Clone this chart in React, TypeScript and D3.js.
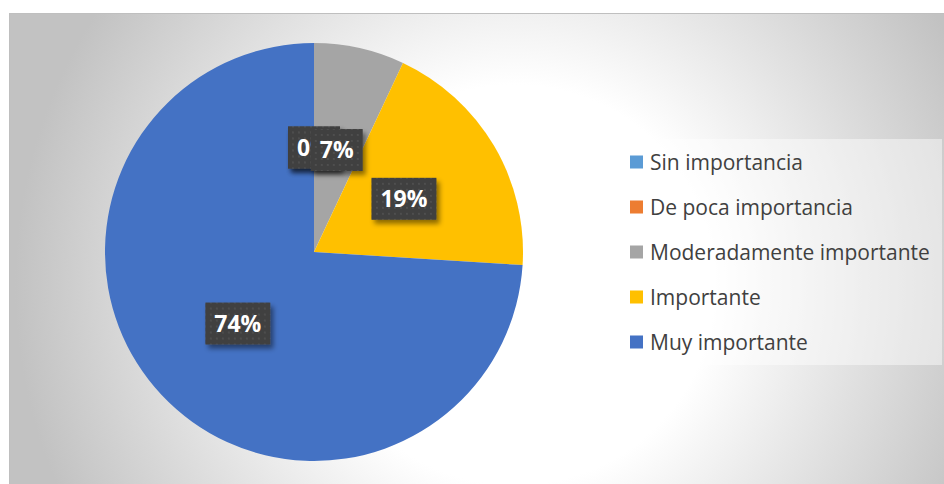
import { useEffect, useRef } from 'react'
import * as d3 from 'd3'

const categories = [
  'Sin importancia',
  'De poca importancia',
  'Moderadamente importante',
  'Importante',
  'Muy importante',
]
const values = [0, 0, 7, 19, 74]
const colors = ['#5B9BD5', '#ED7D31', '#A5A5A5', '#FFC000', '#4472C4']

interface Slice {
  name: string
  value: number
  color: string
}

export default function App() {
  const svgRef = useRef<SVGSVGElement>(null)

  useEffect(() => {
    document.body.style.margin = '0'
    if (!svgRef.current) return
    const W = 944
    const H = 484
    const svg = d3.select(svgRef.current)
    svg.selectAll('*').remove()
    svg.attr('width', W).attr('height', H)

    const data: Slice[] = categories.map((name, i) => ({ name, value: values[i], color: colors[i] }))

    const defs = svg.append('defs')
    const grad = defs.append('radialGradient')
      .attr('id', 'bg')
      .attr('gradientUnits', 'userSpaceOnUse')
      .attr('cx', 515).attr('cy', 285).attr('r', 500)
    grad.append('stop').attr('offset', 0).attr('stop-color', '#ffffff')
    grad.append('stop').attr('offset', 0.4).attr('stop-color', '#ffffff')
    grad.append('stop').attr('offset', 1).attr('stop-color', '#c2c2c2')

    const pat = defs.append('pattern')
      .attr('id', 'dots')
      .attr('patternUnits', 'userSpaceOnUse')
      .attr('width', 6).attr('height', 6)
    pat.append('rect').attr('width', 6).attr('height', 6).attr('fill', '#404040')
    pat.append('circle').attr('cx', 3).attr('cy', 3).attr('r', 0.9).attr('fill', '#555555')

    const shadow = defs.append('filter').attr('id', 'shadow')
      .attr('x', '-30%').attr('y', '-30%').attr('width', '160%').attr('height', '160%')
    shadow.append('feDropShadow')
      .attr('dx', 3).attr('dy', 4).attr('stdDeviation', 2.5)
      .attr('flood-color', '#000').attr('flood-opacity', 0.45)

    // chart area
    svg.append('rect')
      .attr('x', 9.5).attr('y', 13.5)
      .attr('width', W).attr('height', H)
      .attr('fill', 'url(#bg)')
      .attr('stroke', '#bfbfbf')

    // pie
    const cx = 314
    const cy = 252
    const r = 209
    const pie = d3.pie<Slice>().sort(null).value(d => d.value)
    const arcs = pie(data)
    const arc = d3.arc<d3.PieArcDatum<Slice>>().innerRadius(0).outerRadius(r)

    const g = svg.append('g').attr('transform', `translate(${cx},${cy})`)
    g.selectAll('path.slice')
      .data(arcs)
      .enter()
      .append('path')
      .attr('class', 'slice')
      .attr('d', arc)
      .attr('fill', d => d.data.color)

    // labels (the two 0% labels sit under the 7% one, as in the original)
    const labels = g.append('g')
      .style('font-family', '"Open Sans", sans-serif')
      .style('font-weight', 700)
      .style('font-size', '23px')
    arcs.forEach(a => {
      const [lx, ly] = arc.centroid(a)
      const lg = labels.append('g').attr('transform', `translate(${lx},${ly})`)
      const box = lg.append('rect').attr('fill', 'url(#dots)').attr('filter', 'url(#shadow)')
      const t = lg.append('text')
        .attr('text-anchor', 'middle')
        .attr('dy', '0.36em')
        .attr('fill', '#ffffff')
        .text(`${a.data.value}%`)
      const tw = (t.node() as SVGTextElement).getComputedTextLength()
      const bw = tw + 18
      const bh = 42
      box.attr('x', -bw / 2).attr('y', -bh / 2).attr('width', bw).attr('height', bh)
    })

    // legend
    svg.append('rect')
      .attr('x', 618).attr('y', 139)
      .attr('width', 324).attr('height', 226)
      .attr('fill', '#ffffff').attr('fill-opacity', 0.45)

    const legend = svg.append('g')
      .style('font-family', '"Open Sans", sans-serif')
      .style('font-size', '21px')
    data.forEach((d, i) => {
      const y = 162 + i * 45
      legend.append('rect')
        .attr('x', 630).attr('y', y - 6.5)
        .attr('width', 13).attr('height', 13)
        .attr('fill', d.color)
      legend.append('text')
        .attr('x', 650).attr('y', y)
        .attr('dy', '0.36em')
        .attr('fill', '#404040')
        .text(d.name)
    })
  }, [])

  return <svg ref={svgRef} style={{ display: 'block' }} />
}
